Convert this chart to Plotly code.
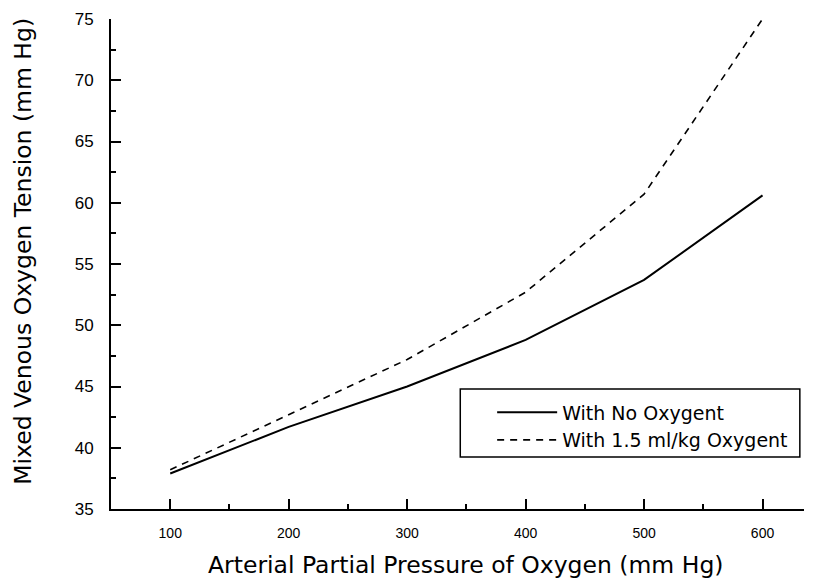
import plotly.graph_objects as go

x_pressure = [100, 200, 300, 400, 500, 600]
no_oxygent = [37.9, 41.7, 45.0, 48.8, 53.7, 60.6]
with_oxygent = [38.2, 42.7, 47.2, 52.7, 60.7, 75.0]
x_ticks = [100, 200, 300, 400, 500, 600]
y_ticks = [35, 40, 45, 50, 55, 60, 65, 70, 75]
x_title = "Arterial Partial Pressure of Oxygen (mm Hg)"
y_title = "Mixed Venous Oxygen Tension (mm Hg)"

FONT = "'DejaVu Sans', Verdana, sans-serif"

fig = go.Figure()
fig.add_trace(go.Scatter(x=x_pressure, y=no_oxygent, mode="lines",
                         name="With No Oxygent",
                         line=dict(color="black", width=2)))
fig.add_trace(go.Scatter(x=x_pressure, y=with_oxygent, mode="lines",
                         name="With 1.5 ml/kg Oxygent",
                         line=dict(color="black", width=1.6, dash="7px,6px")))

fig.update_layout(
    width=817, height=578,
    margin=dict(l=103, r=21, t=11, b=77),
    paper_bgcolor="white", plot_bgcolor="white",
    font=dict(family=FONT, color="black"),
    showlegend=True,
    legend=dict(x=0.55, y=0.236, xanchor="left", yanchor="top",
                bgcolor="rgba(0,0,0,0)", borderwidth=0,
                font=dict(size=19, family=FONT), itemwidth=60,
                tracegroupgap=0),
    shapes=[dict(type="rect", xref="paper", yref="paper",
                 x0=0.504, x1=0.994, y0=0.106, y1=0.245,
                 line=dict(color="black", width=1.5))],
    annotations=[
        dict(text=x_title, xref="paper", yref="paper", x=0.512, y=0,
             xanchor="center", yanchor="middle", yshift=-56, showarrow=False,
             font=dict(size=23.5, family=FONT)),
        dict(text=y_title, xref="paper", yref="paper", x=0, y=0.525,
             xanchor="center", yanchor="middle", xshift=-88, showarrow=False,
             textangle=-90, font=dict(size=23.5, family=FONT)),
    ],
)

fig.update_xaxes(
    range=[50, 635], tickvals=x_ticks, ticktext=[str(v) for v in x_ticks],
    automargin=False,
    showline=True, linecolor="black", linewidth=2, showgrid=False, zeroline=False,
    ticks="inside", ticklen=10, tickwidth=2, tickcolor="black",
    minor=dict(dtick=50, ticks="inside", ticklen=5, tickwidth=1.5, tickcolor="black"),
    tickfont=dict(size=14, family="'Liberation Sans Narrow', Arial, sans-serif"),
    ticklabelstandoff=10,
)
fig.update_yaxes(
    range=[35, 75], tickvals=y_ticks, ticktext=[str(v) for v in y_ticks],
    automargin=False,
    showline=True, linecolor="black", linewidth=2, showgrid=False, zeroline=False,
    ticks="inside", ticklen=10, tickwidth=2, tickcolor="black",
    minor=dict(dtick=2.5, ticks="inside", ticklen=5, tickwidth=1.5, tickcolor="black"),
    tickfont=dict(size=17, family="Arial, 'Liberation Sans', sans-serif"),
    ticklabelstandoff=12,
)

fig.write_html("out.html")
